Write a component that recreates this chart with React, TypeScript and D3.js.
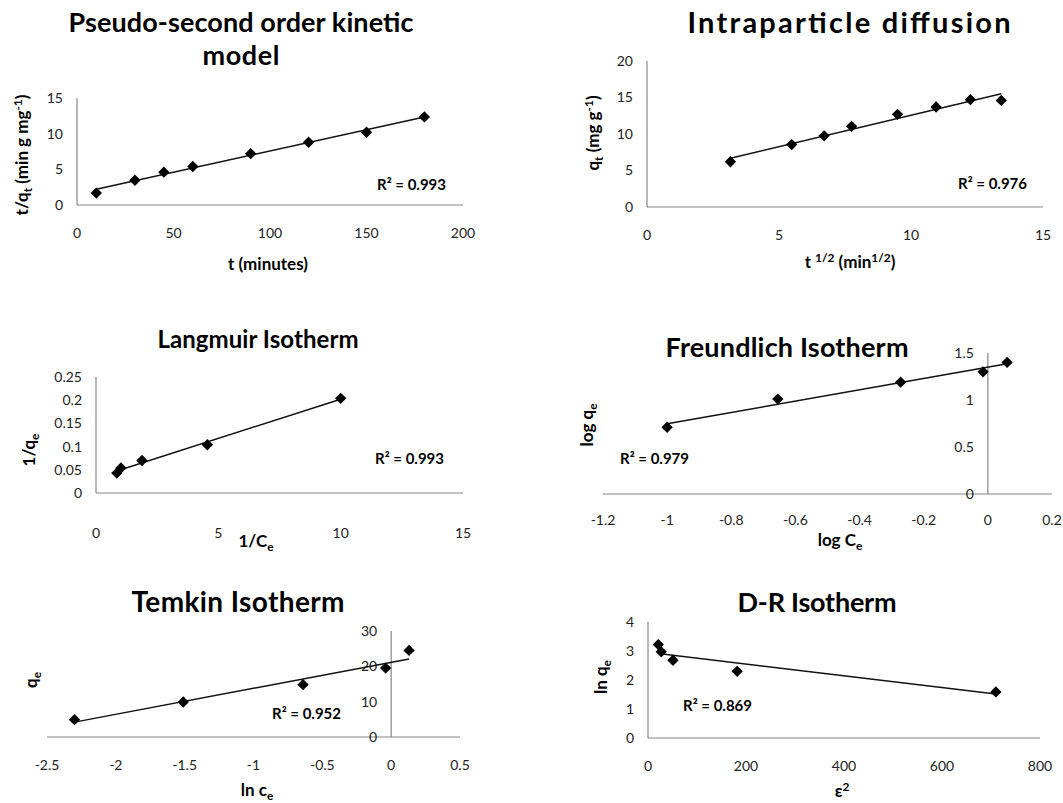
import React, { useEffect, useRef } from 'react';
import * as d3 from 'd3';

// pseudo-second order kinetic: t (min) vs t/qt
const psoT = [10, 30, 45, 60, 90, 120, 150, 180];
const psoTq = [1.67, 3.47, 4.6, 5.4, 7.2, 8.8, 10.2, 12.35];
const psoXTicks = [0, 50, 100, 150, 200];
const psoYTicks = [0, 5, 10, 15];

// intraparticle diffusion: t^1/2 vs qt
const ipdSqrtT = [3.16, 5.48, 6.71, 7.75, 9.49, 10.95, 12.25, 13.42];
const ipdQt = [6.2, 8.55, 9.75, 11.05, 12.7, 13.7, 14.7, 14.6];
const ipdXTicks = [0, 5, 10, 15];
const ipdYTicks = [0, 5, 10, 15, 20];

// Langmuir: 1/Ce vs 1/qe
const langInvCe = [0.85, 1.02, 1.88, 4.55, 10];
const langInvQe = [0.043, 0.054, 0.07, 0.104, 0.204];
const langXTicks = [0, 5, 10, 15];
const langYTicks = [0, 0.05, 0.1, 0.15, 0.2, 0.25];

// Freundlich: log Ce vs log qe
const freuLogCe = [-1, -0.655, -0.272, -0.015, 0.06];
const freuLogQe = [0.71, 1.01, 1.19, 1.3, 1.4];
const freuXTicks = [-1.2, -1, -0.8, -0.6, -0.4, -0.2, 0, 0.2];
const freuYTicks = [0, 0.5, 1, 1.5];

// Temkin: ln ce vs qe
const temkLnCe = [-2.3, -1.51, -0.64, -0.04, 0.13];
const temkQe = [4.9, 9.9, 14.8, 19.5, 24.5];
const temkXTicks = [-2.5, -2, -1.5, -1, -0.5, 0, 0.5];
const temkYTicks = [0, 10, 20, 30];

// D-R: eps^2 vs ln qe
const drEps2 = [21, 27, 51, 182, 710];
const drLnQe = [3.22, 2.97, 2.68, 2.3, 1.59];
const drXTicks = [0, 200, 400, 600, 800];
const drYTicks = [0, 1, 2, 3, 4];

const r2Labels = ['R² = 0.993', 'R² = 0.976', 'R² = 0.993', 'R² = 0.979', 'R² = 0.952', 'R² = 0.869'];

type Seg = { t: string; s?: 'sub' | 'sup' };

// title lines: [text, width in px] so spacing matches the original chart
const panels = [
  {
    title: [['Pseudo-second order kinetic', 345], ['model', 77]] as [string, number][], tx: 241, ty: 32, tfs: 27,
    xs: psoT, ys: psoTq, xTicks: psoXTicks, yTicks: psoYTicks,
    box: [77, 463, 205, 98], xLab: 33, r2: [377, 190],
    xTitle: [{ t: 't (minutes)' }] as Seg[], xt: [268, 270],
    yTitle: [{ t: 't/q' }, { t: 't', s: 'sub' }, { t: ' (min g mg' }, { t: '-1', s: 'sup' }, { t: ')' }] as Seg[], yt: [28, 155],
  },
  {
    title: [['Intraparticle diffusion', 323]] as [string, number][], tx: 849, ty: 33, tfs: 29,
    xs: ipdSqrtT, ys: ipdQt, xTicks: ipdXTicks, yTicks: ipdYTicks,
    box: [647, 1043, 207, 61], xLab: 33, r2: [958, 189],
    xTitle: [{ t: 't ' }, { t: '1/2', s: 'sup' }, { t: ' (min' }, { t: '1/2', s: 'sup' }, { t: ')' }] as Seg[], xt: [850, 268],
    yTitle: [{ t: 'q' }, { t: 't', s: 'sub' }, { t: ' (mg g' }, { t: '-1', s: 'sup' }, { t: ')' }] as Seg[], yt: [599, 133],
  },
  {
    title: [['Langmuir Isotherm', 201]] as [string, number][], tx: 258, ty: 348, tfs: 24,
    xs: langInvCe, ys: langInvQe, xTicks: langXTicks, yTicks: langYTicks,
    box: [96, 463, 493, 377], xLab: 45, r2: [375, 464],
    xTitle: [{ t: '1/C' }, { t: 'e', s: 'sub' }] as Seg[], xt: [256, 547],
    yTitle: [{ t: '1/q' }, { t: 'e', s: 'sub' }] as Seg[], yt: [35, 450],
  },
  {
    title: [['Freundlich Isotherm', 243]] as [string, number][], tx: 787, ty: 357, tfs: 27,
    xs: freuLogCe, ys: freuLogQe, xTicks: freuXTicks, yTicks: freuYTicks,
    box: [603, 1052, 494, 353], xLab: 31, r2: [620, 464],
    xTitle: [{ t: 'log C' }, { t: 'e', s: 'sub' }] as Seg[], xt: [840, 546],
    yTitle: [{ t: 'log q' }, { t: 'e', s: 'sub' }] as Seg[], yt: [593, 425],
  },
  {
    title: [['Temkin Isotherm', 213]] as [string, number][], tx: 238, ty: 612, tfs: 28,
    xs: temkLnCe, ys: temkQe, xTicks: temkXTicks, yTicks: temkYTicks,
    box: [47, 460, 737, 631], xLab: 33, r2: [272, 719],
    xTitle: [{ t: 'ln c' }, { t: 'e', s: 'sub' }] as Seg[], xt: [257, 796],
    yTitle: [{ t: 'q' }, { t: 'e', s: 'sub' }] as Seg[], yt: [37, 680],
  },
  {
    title: [['D-R Isotherm', 159]] as [string, number][], tx: 817, ty: 612, tfs: 27,
    xs: drEps2, ys: drLnQe, xTicks: drXTicks, yTicks: drYTicks,
    box: [648, 1040, 738, 622], xLab: 33, r2: [683, 711],
    xTitle: [{ t: 'ε' }, { t: '2', s: 'sup' }] as Seg[], xt: [842, 797],
    yTitle: [{ t: 'ln q' }, { t: 'e', s: 'sub' }] as Seg[], yt: [607, 677],
  },
];

const FONT = 'Lato, "Open Sans", sans-serif';

// write segments with sub/superscripts into a text element
const addSegs = (text: any, segs: Seg[]) => {
  let shift = 0;
  segs.forEach(seg => {
    const target = seg.s === 'sub' ? 4 : seg.s === 'sup' ? -6 : 0;
    text.append('tspan')
      .attr('dy', target - shift)
      .attr('font-size', seg.s ? '0.7em' : null)
      .text(seg.t);
    shift = target;
  });
};

const App = () => {
  const ref = useRef<SVGSVGElement>(null);

  useEffect(() => {
    const svg = d3.select(ref.current);
    svg.selectAll('*').remove();

    panels.forEach((p, i) => {
      const [l, r, b, t] = p.box;
      const x = d3.scaleLinear().domain(d3.extent(p.xTicks) as [number, number]).range([l, r]);
      const y = d3.scaleLinear().domain(d3.extent(p.yTicks) as [number, number]).range([b, t]);
      const g = svg.append('g');

      // title
      p.title.forEach(([line, w], k) => {
        g.append('text')
          .attr('x', p.tx).attr('y', p.ty + k * 33)
          .attr('text-anchor', 'middle')
          .attr('font-size', p.tfs).attr('font-weight', 'bold')
          .attr('textLength', w).attr('lengthAdjust', 'spacing')
          .text(line);
      });

      // axes cross at zero
      const ax = x(Math.max(x.domain()[0], Math.min(0, x.domain()[1])));
      const ay = y(0);
      g.append('line').attr('x1', l).attr('x2', r).attr('y1', ay).attr('y2', ay)
        .attr('stroke', '#868686').attr('stroke-width', 1.2);
      g.append('line').attr('x1', ax).attr('x2', ax).attr('y1', b).attr('y2', t)
        .attr('stroke', '#868686').attr('stroke-width', 1.2);

      // tick labels
      g.selectAll('.xl').data(p.xTicks).join('text')
        .attr('x', d => x(d)).attr('y', ay + p.xLab)
        .attr('text-anchor', 'middle').attr('font-size', 14).attr('fill', '#222')
        .text(d => String(d));
      g.selectAll('.yl').data(p.yTicks).join('text')
        .attr('x', ax - 14).attr('y', d => y(d)).attr('dy', '0.35em')
        .attr('text-anchor', 'end').attr('font-size', 14).attr('fill', '#222')
        .text(d => String(d));

      // axis titles
      const xt = g.append('text').attr('x', p.xt[0]).attr('y', p.xt[1])
        .attr('text-anchor', 'middle').attr('font-size', 17).attr('font-weight', 'bold');
      addSegs(xt, p.xTitle);
      const yt = g.append('text')
        .attr('transform', `translate(${p.yt[0]},${p.yt[1]}) rotate(-90)`)
        .attr('text-anchor', 'middle').attr('font-size', 17).attr('font-weight', 'bold');
      addSegs(yt, p.yTitle);

      // linear trendline (least squares)
      const mx = d3.mean(p.xs)!;
      const my = d3.mean(p.ys)!;
      const slope = d3.sum(p.xs, (v, j) => (v - mx) * (p.ys[j] - my)) / d3.sum(p.xs, v => (v - mx) ** 2);
      const icpt = my - slope * mx;
      const ext = d3.extent(p.xs) as [number, number];
      g.append('path')
        .attr('d', d3.line<number>().x(v => x(v)).y(v => y(icpt + slope * v))(ext))
        .attr('stroke', '#111').attr('stroke-width', 1.5).attr('fill', 'none');

      // diamond markers
      const sym = d3.symbol().type(d3.symbolSquare).size(64);
      g.selectAll('.pt').data(p.xs).join('path')
        .attr('d', sym()!)
        .attr('transform', (v, j) => `translate(${x(v)},${y(p.ys[j])}) rotate(45)`)
        .attr('fill', '#000');

      // R^2 label
      g.append('text').attr('x', p.r2[0]).attr('y', p.r2[1])
        .attr('font-size', 15).attr('font-weight', 'bold')
        .text(r2Labels[i]);
    });
  }, []);

  return (
    <svg ref={ref} width={1063} height={803}
      style={{ position: 'absolute', left: 0, top: 0, background: '#fff', fontFamily: FONT }} />
  );
};

export default App;
